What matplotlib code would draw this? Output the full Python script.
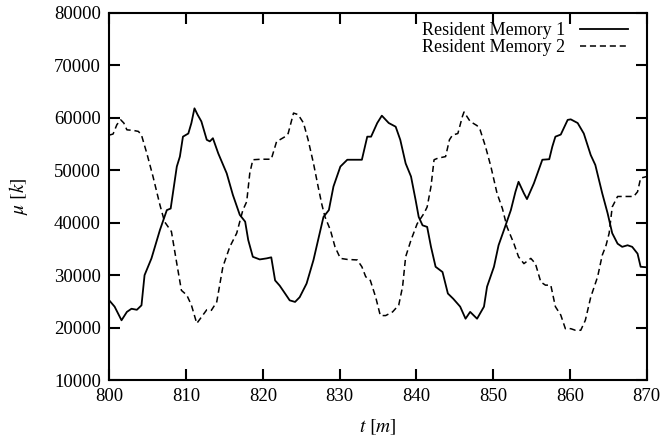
import numpy as np
import matplotlib
matplotlib.use("Agg")
from matplotlib import pyplot as plt

# solid curve: Resident Memory 1
t1 = [800.0, 800.7, 801.6, 802.3, 802.9, 803.6, 804.2, 804.6, 805.5, 806.6,
      807.5, 808.0, 808.8, 809.2, 809.6, 810.3, 810.7, 811.1, 811.5, 812.0,
      812.7, 813.1, 813.5, 814.2, 815.3, 816.1, 817.0, 817.7, 818.1, 818.7,
      819.6, 820.5, 821.1, 821.6, 822.2, 822.9, 823.5, 824.2, 824.8, 825.7,
      826.6, 827.2, 827.9, 828.6, 829.2, 830.1, 831.0, 832.1, 832.9, 833.6,
      834.1, 834.9, 835.5, 836.4, 837.3, 837.9, 838.6, 839.3, 839.9, 840.3,
      840.8, 841.4, 841.9, 842.5, 843.4, 844.1, 844.8, 845.7, 846.4, 847.0,
      847.9, 848.8, 849.2, 850.1, 850.7, 851.4, 852.3, 852.9, 853.3, 854.0,
      854.4, 855.3, 856.4, 857.3, 857.7, 858.1, 858.8, 859.7, 860.1, 861.0,
      861.8, 862.7, 863.3, 864.2, 864.9, 865.5, 866.2, 866.8, 867.5, 868.1,
      868.8, 869.2, 870.0]
mem1 = [25200, 24000, 21400, 23000, 23600, 23400, 24250, 30000, 33200, 38600,
        42400, 42700, 50700, 52600, 56400, 57000, 59000, 61800, 60600, 59300,
        55800, 55500, 56100, 53200, 49400, 45300, 41500, 40200, 36700, 33500,
        33000, 33200, 33400, 29000, 28000, 26500, 25200, 24900, 25800, 28400,
        32900, 36700, 41100, 42400, 46900, 50700, 52000, 52000, 52000, 56400,
        56400, 59000, 60400, 59000, 58300, 55800, 51300, 48800, 44300, 41100,
        39500, 39200, 35400, 31600, 30600, 26500, 25500, 24000, 21700, 23000,
        21700, 24000, 27800, 31600, 35700, 38600, 42400, 45900, 47800, 45600,
        44500, 47500, 52000, 52100, 54500, 56400, 56800, 59600, 59700, 59000,
        57000, 52900, 51000, 45600, 41800, 38000, 36000, 35400, 35700, 35400,
        34100, 31600, 31500]

# dashed curve: Resident Memory 2
t2 = [800.0, 800.5, 801.0, 801.5, 801.9, 802.3, 803.1, 803.8, 804.2, 804.9,
      805.7, 806.6, 807.2, 808.1, 808.8, 809.4, 810.1, 810.7, 811.4, 812.0,
      812.7, 813.3, 814.0, 814.8, 815.7, 816.6, 817.4, 817.9, 818.3, 818.7,
      819.8, 821.1, 821.8, 822.2, 822.9, 823.3, 824.0, 824.6, 825.3, 825.9,
      826.6, 827.2, 827.7, 828.1, 828.8, 829.4, 830.1, 831.0, 832.3, 832.9,
      833.4, 834.0, 834.7, 835.3, 836.0, 836.9, 837.7, 838.2, 838.6, 839.3,
      840.1, 841.0, 841.4, 841.9, 842.3, 842.8, 843.8, 844.3, 844.7, 845.4,
      846.0, 846.2, 847.0, 847.9, 848.3, 849.0, 849.7, 850.5, 851.2, 851.8,
      852.7, 853.3, 854.0, 854.9, 855.5, 856.2, 856.8, 857.5, 858.1, 858.8,
      859.4, 860.1, 860.7, 861.4, 862.0, 862.7, 863.6, 864.2, 864.7, 865.1,
      865.5, 866.2, 867.0, 868.3, 868.8, 869.2, 870.0]
mem2 = [56700, 56900, 58700, 59600, 59000, 57700, 57600, 57400, 56700, 53200,
        48800, 43400, 40200, 38300, 32200, 27100, 26200, 24300, 20800, 22000,
        23400, 23300, 24900, 31600, 35400, 38000, 42400, 44000, 49400, 52000,
        52100, 52100, 55500, 55800, 56400, 57000, 60900, 60600, 59000, 55800,
        51300, 46900, 43400, 41100, 38600, 35400, 33200, 33000, 32900, 31600,
        29700, 29000, 25800, 22300, 22300, 23000, 24300, 27800, 33500, 36700,
        39800, 41800, 43000, 46900, 52000, 52300, 52600, 55800, 56700, 57000,
        60300, 61100, 59300, 58500, 57700, 54500, 50700, 45600, 42700, 39200,
        36000, 33500, 32200, 33200, 32200, 28700, 28100, 28100, 24000, 22400,
        19800, 19800, 19500, 19500, 21400, 25800, 29700, 33800, 35700, 38000,
        43000, 45000, 45000, 45000, 45900, 48500, 48800]

xticks = np.arange(800, 871, 10)
yticks = np.arange(10000, 80001, 10000)

plt.rcParams['font.family'] = ['Liberation Serif', 'DejaVu Serif']
plt.rcParams['mathtext.fontset'] = 'stix'

fig = plt.figure(figsize=(6.62, 4.43), dpi=100)
ax = fig.add_axes([0.165, 0.142, 0.812, 0.829])

ax.plot(t1, mem1, color="black", lw=1.3, label="Resident Memory 1")
ax.plot(t2, mem2, color="black", lw=1.1, ls=(0, (4, 2.5)), label="Resident Memory 2")

ax.set_xlim(800, 870)
ax.set_ylim(10000, 80000)
ax.set_xticks(xticks)
ax.set_yticks(yticks)
ax.tick_params(direction="in", length=8, width=1.5, top=True, right=True,
               labelsize=13.5, pad=6)
for s in ax.spines.values():
    s.set_linewidth(1.5)

ax.set_xlabel(r"$t\ [m]$", fontsize=14, labelpad=9)
ax.set_ylabel(r"$\mu\ [k]$", fontsize=14, labelpad=17)

ax.legend(loc="upper right", frameon=False, markerfirst=False, fontsize=13,
          handlelength=2.7, handletextpad=0.8, labelspacing=0.0,
          borderaxespad=0, bbox_to_anchor=(0.979, 0.995))

fig.savefig("out.png", dpi=100)
